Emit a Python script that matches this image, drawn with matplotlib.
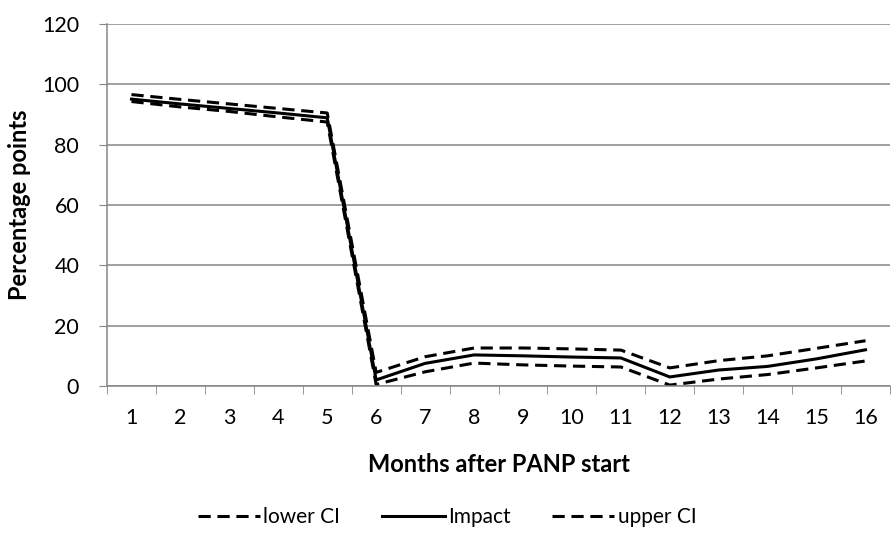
import matplotlib
matplotlib.use("Agg")
import matplotlib.pyplot as plt

months = list(range(1, 17))
impact = [95.1, 93.5, 92.0, 90.5, 88.9, 2.0, 7.5, 10.3, 10.0, 9.6, 9.3, 3.0, 5.3, 6.5, 9.0, 12.0]
upper = [96.6, 95.0, 93.5, 92.0, 90.5, 4.5, 9.7, 12.6, 12.6, 12.3, 11.9, 6.0, 8.4, 10.0, 12.5, 15.0]
lower = [94.3, 92.5, 91.0, 89.2, 87.5, 0.5, 4.7, 7.6, 7.0, 6.6, 6.3, 0.3, 2.3, 3.8, 6.0, 8.3]
yticks = [0, 20, 40, 60, 80, 100, 120]

plt.rcParams['font.family'] = ['Lato', 'DejaVu Sans']

fig = plt.figure(figsize=(8.94, 5.44), dpi=100)
ax = fig.add_axes([107/894, 1-386/544, 783/894, 362/544])

ax.plot(months, lower, color='black', lw=2.2, dashes=(4, 2.2), label='lower CI')
ax.plot(months, impact, color='black', lw=2.2, label='Impact')
ax.plot(months, upper, color='black', lw=2.2, dashes=(4, 2.2), label='upper CI')

ax.set_xlim(0.5, 16.5)
ax.set_ylim(0, 120)
ax.set_yticks(yticks)
ax.set_xticks(months)
ax.set_xticks([m - 0.5 for m in months] + [16.5], minor=True)
ax.tick_params(axis='x', which='major', length=0, labelsize=15.5, pad=16)
ax.tick_params(axis='x', which='minor', length=6, color='#868686', direction='out')
ax.tick_params(axis='y', length=6, color='#868686', labelsize=15.5, pad=14)
ax.grid(axis='y', color='#868686', lw=1.1)
ax.set_axisbelow(True)
for s in ['top', 'right']:
    ax.spines[s].set_visible(False)
for s in ['left', 'bottom']:
    ax.spines[s].set_color('#868686')
    ax.spines[s].set_linewidth(1.1)

ax.set_xlabel('Months after PANP start', fontsize=17, fontweight='bold', labelpad=18)
ax.set_ylabel('Percentage points', fontsize=17, fontweight='bold', labelpad=8)

fig.legend(loc='center', bbox_to_anchor=(0.5, 1-517/544), ncol=3, frameon=False,
           fontsize=15, handlelength=3.0, handletextpad=0.15, columnspacing=2.0)

fig.savefig('out.png', dpi=100)
